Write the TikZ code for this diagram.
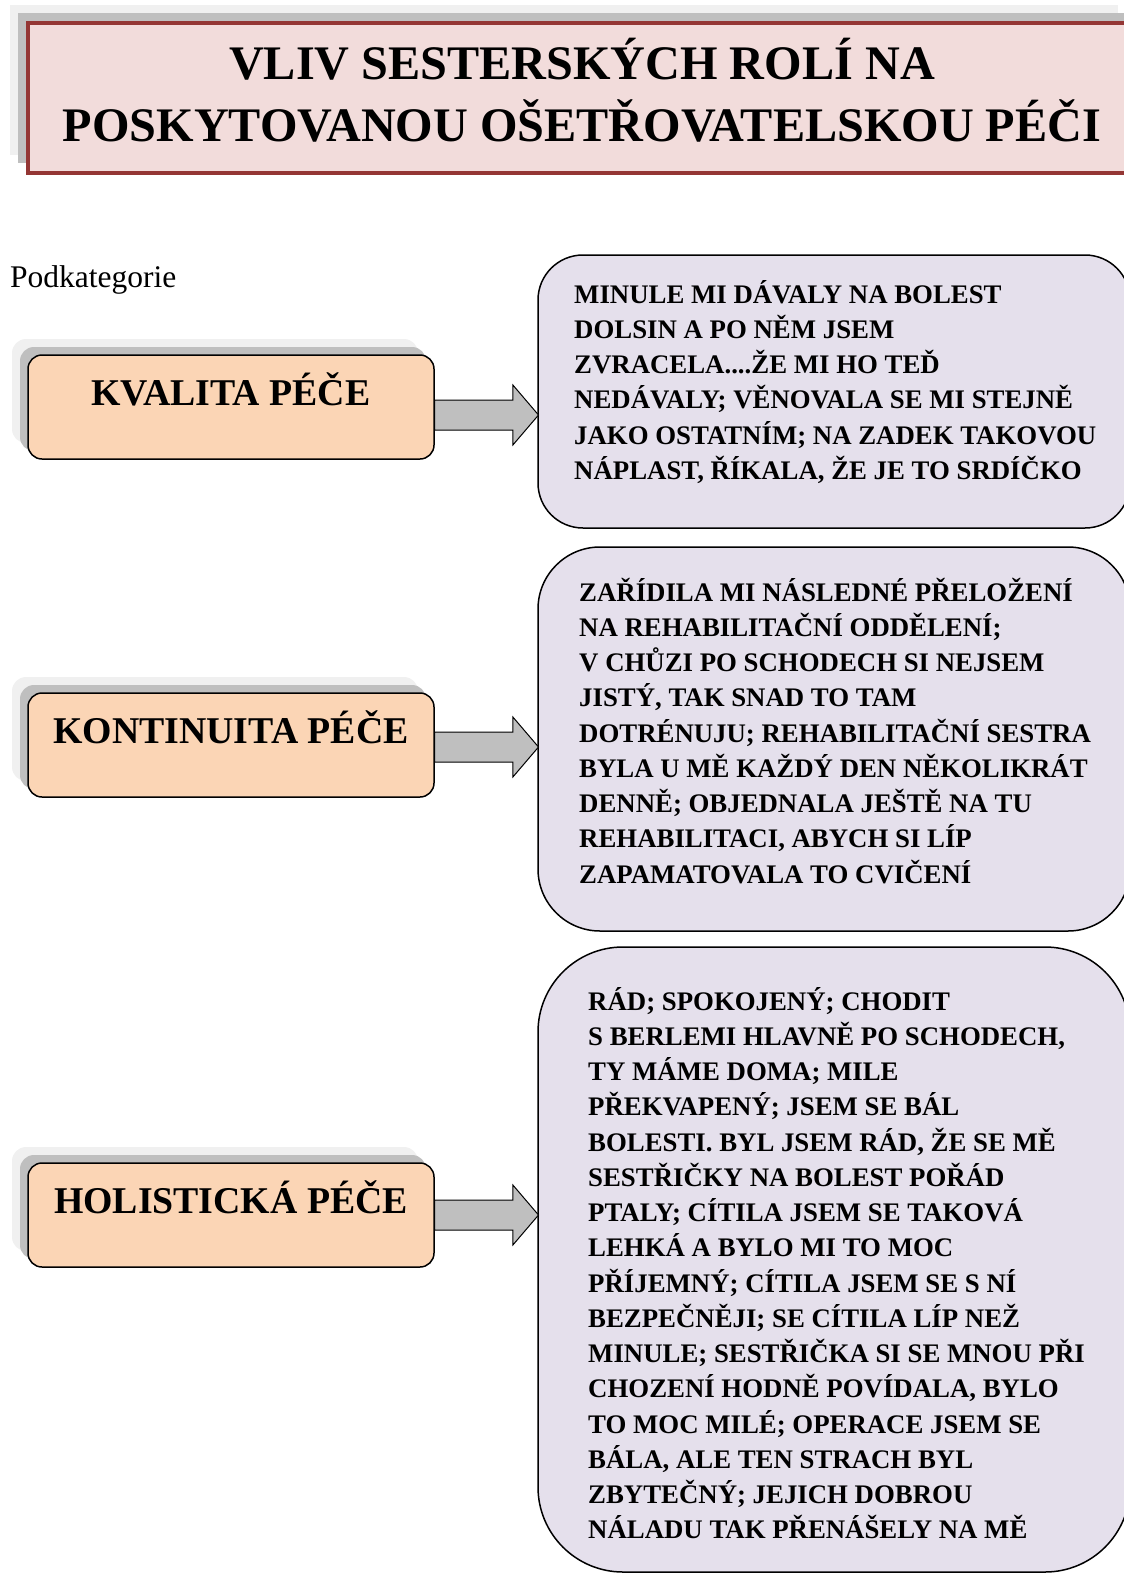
\documentclass[tikz,border=0pt]{standalone}
\usepackage{fontspec}
\setmainfont{Liberation Serif}
\usepackage{tikz}
\usetikzlibrary{positioning}
\usetikzlibrary{shapes.arrows,shadows}

\definecolor{titlered}{HTML}{943634}
\definecolor{titlefill}{HTML}{F2DCDB}
\definecolor{catfill}{HTML}{FBD5B5}
\definecolor{quotefill}{HTML}{E5E0EC}
\definecolor{arrowgrey}{HTML}{BFBFBF}
\definecolor{shadowdark}{HTML}{BFBFBF}
\definecolor{shadowlight}{HTML}{F0F0F0}

\begin{document}
\begin{tikzpicture}[x=1pt,y=-1pt,
  title/.style={draw=titlered,line width=3.5pt,fill=titlefill,outer sep=0pt,inner sep=0pt,
    minimum width=1108pt,minimum height=150pt,align=center,
    font=\bfseries\fontsize{48.2}{62}\selectfont,
    general shadow={fill=shadowlight,shadow xshift=-18pt,shadow yshift=18pt},
    general shadow={fill=shadowdark,shadow xshift=-10pt,shadow yshift=10pt}},
  category/.style={draw,line width=1.5pt,rounded corners=14pt,fill=catfill,outer sep=0pt,inner sep=0pt,
    minimum width=406pt,minimum height=104pt,text height=20pt,text depth=24pt,
    font=\bfseries\fontsize{37.8}{44}\selectfont,
    general shadow={fill=shadowlight,shadow xshift=-16pt,shadow yshift=16pt},
    general shadow={fill=shadowdark,shadow xshift=-8pt,shadow yshift=8pt}},
  quotebox/.style={draw,line width=1.5pt,fill=quotefill,outer sep=0pt,inner sep=0pt,minimum width=592pt},
  quotetext/.style={inner sep=0pt,align=left,font=\bfseries\fontsize{26.8}{35.25}\selectfont},
  blockarrow/.style={single arrow,draw,line width=1pt,fill=arrowgrey,minimum height=104pt,inner sep=14.5pt,
    single arrow head extend=15pt,single arrow tip angle=99,anchor=tail}]
  \path[use as bounding box] (0,0) rectangle (1124,1574);
  \clip (0,0) rectangle (1124,1574);

  \node[title,anchor=north west] (nadpis) at (28,23)
    {\strut VLIV SESTERSKÝCH ROLÍ NA\\\strut POSKYTOVANOU OŠETŘOVATELSKOU PÉČI};
  \node[anchor=base west,inner sep=0pt,font=\fontsize{31.5}{38}\selectfont] (podkat) at (10,287) {Podkategorie};

  % podkategorie
  \node[category,anchor=north west] (kvalita)    at (28,355)  {KVALITA PÉČE};
  \node[category,anchor=north west] (kontinuita) at (28,693)  {KONTINUITA PÉČE};
  \node[category,anchor=north west] (holisticka) at (28,1163) {HOLISTICKÁ PÉČE};

  % vypovedi
  \node[quotebox,anchor=north west,minimum height=273pt,rounded corners=45pt] (kvalitaBox)    at (538,255) {};
  \node[quotebox,anchor=north west,minimum height=384pt,rounded corners=62pt] (kontinuitaBox) at (538,547) {};
  \node[quotebox,anchor=north west,minimum height=625pt,rounded corners=85pt] (holistickaBox) at (538,947) {};

  \node[quotetext,below right=23.3pt and 36pt of kvalitaBox.north west] (kvalitaTxt)
    {\strut MINULE MI DÁVALY NA BOLEST\\
     DOLSIN A PO NĚM JSEM\\
     ZVRACELA....ŽE MI HO TEĎ\\
     NEDÁVALY; VĚNOVALA SE MI STEJNĚ\\
     JAKO OSTATNÍM; NA ZADEK TAKOVOU\\
     NÁPLAST, ŘÍKALA, ŽE JE TO SRDÍČKO};
  \node[quotetext,below right=29.3pt and 41pt of kontinuitaBox.north west] (kontinuitaTxt)
    {\strut ZAŘÍDILA MI NÁSLEDNÉ PŘELOŽENÍ\\
     NA REHABILITAČNÍ ODDĚLENÍ;\\
     V CHŮZI PO SCHODECH SI NEJSEM\\
     JISTÝ, TAK SNAD TO TAM\\
     DOTRÉNUJU; REHABILITAČNÍ SESTRA\\
     BYLA U MĚ KAŽDÝ DEN NĚKOLIKRÁT\\
     DENNĚ; OBJEDNALA JEŠTĚ NA TU\\
     REHABILITACI, ABYCH SI LÍP\\
     ZAPAMATOVALA TO CVIČENÍ};
  \node[quotetext,below right=38.3pt and 50pt of holistickaBox.north west] (holistickaTxt)
    {\strut RÁD; SPOKOJENÝ; CHODIT\\
     S BERLEMI HLAVNĚ PO SCHODECH,\\
     TY MÁME DOMA; MILE\\
     PŘEKVAPENÝ; JSEM SE BÁL\\
     BOLESTI. BYL JSEM RÁD, ŽE SE MĚ\\
     SESTŘIČKY NA BOLEST POŘÁD\\
     PTALY; CÍTILA JSEM SE TAKOVÁ\\
     LEHKÁ A BYLO MI TO MOC\\
     PŘÍJEMNÝ; CÍTILA JSEM SE S NÍ\\
     BEZPEČNĚJI; SE CÍTILA LÍP NEŽ\\
     MINULE; SESTŘIČKA SI SE MNOU PŘI\\
     CHOZENÍ HODNĚ POVÍDALA, BYLO\\
     TO MOC MILÉ; OPERACE JSEM SE\\
     BÁLA, ALE TEN STRACH BYL\\
     ZBYTEČNÝ; JEJICH DOBROU\\
     NÁLADU TAK PŘENÁŠELY NA MĚ};

  % sipky
  \node[blockarrow] (kvalitaArrow)    at ([yshift=-8pt]kvalita.east)    {};
  \node[blockarrow] (kontinuitaArrow) at ([yshift=-2pt]kontinuita.east) {};
  \node[blockarrow] (holistickaArrow) at (holisticka.east)              {};
\end{tikzpicture}
\end{document}
